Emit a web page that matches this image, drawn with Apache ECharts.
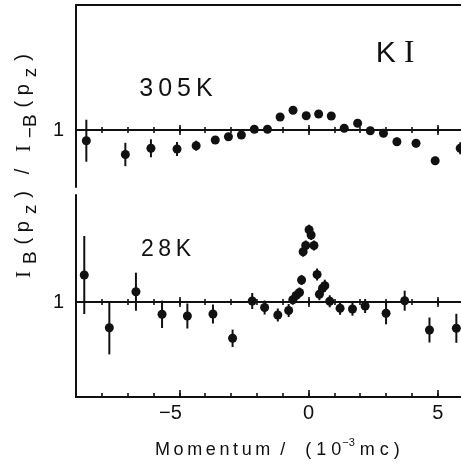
<!DOCTYPE html>
<html>
<head>
<meta charset="utf-8">
<script src="https://cdn.jsdelivr.net/npm/echarts@6/dist/echarts.min.js"></script>
<style>
html, body { margin: 0; padding: 0; background: #fff; }
#chart { width: 461px; height: 465px; }
</style>
</head>
<body>
<div id="chart"></div>
<script>
// 305 K panel
var topMomentum = [-8.60, -7.09, -6.10, -5.09, -4.35, -3.61, -3.10, -2.60, -2.10, -1.59, -1.10, -0.60, -0.09, 0.39, 0.88, 1.38, 1.90, 2.39, 2.90, 3.42, 4.16, 4.90, 5.87];
var topRatio = [0.9893, 0.9755, 0.9817, 0.9810, 0.9843, 0.9900, 0.9933, 0.9950, 1.0007, 1.0007, 1.0130, 1.0197, 1.0143, 1.0160, 1.0140, 1.0017, 1.0067, 0.9993, 0.9967, 0.9883, 0.9867, 0.9693, 0.9817];
var topError = [0.021, 0.0117, 0.009, 0.007, 0.005, 0.004, 0.003, 0.003, 0.003, 0.003, 0.003, 0.003, 0.003, 0.003, 0.003, 0.003, 0.003, 0.003, 0.003, 0.004, 0.004, 0.004, 0.006];

// 28 K panel
var botMomentum = [-8.68, -7.71, -6.68, -5.67, -4.69, -3.70, -2.94, -2.18, -1.70, -1.19, -0.77, -0.61, -0.48, -0.35, -0.27, -0.21, -0.11, 0.02, 0.10, 0.21, 0.33, 0.42, 0.54, 0.63, 0.82, 1.22, 1.70, 2.19, 3.00, 3.72, 4.68, 5.72];
var botRatio = [1.0270, 0.9743, 1.0103, 0.9877, 0.9860, 0.9880, 0.9637, 1.0010, 0.9945, 0.9870, 0.9915, 1.0023, 1.0065, 1.0095, 1.0220, 1.0503, 1.0565, 1.0723, 1.0670, 1.0565, 1.0275, 1.0078, 1.0137, 1.0163, 1.0007, 0.9937, 0.9930, 0.9960, 0.9887, 1.0013, 0.9720, 0.9737];
var botError = [0.039, 0.0267, 0.019, 0.0137, 0.0125, 0.0095, 0.0087, 0.008, 0.007, 0.0065, 0.0065, 0.005, 0.005, 0.005, 0.005, 0.005, 0.005, 0.005, 0.005, 0.005, 0.006, 0.006, 0.006, 0.006, 0.006, 0.0065, 0.0067, 0.007, 0.011, 0.010, 0.0125, 0.0145];

var minorTicks = [-8, -7, -6, -5, -4, -3, -2, -1, 0, 1, 2, 3, 4, 5];
var majorTicks = [-5, 0, 5];
var xMin = -9, xMax = 5.9;

var ink = '#111';
var sans = 'Liberation Sans';

// ratios are drawn as (ratio - 1) so the baseline axes can sit on zero
// zeroOf: yAxis index to sit on, or null for the frame edge
function xAx(grid, pos, zeroOf, ticks, len, inside, line, labels) {
	return {
		type: 'value', gridIndex: grid, position: pos, min: xMin, max: xMax,
		axisLine: { show: line, onZero: zeroOf != null, onZeroAxisIndex: zeroOf != null ? zeroOf : undefined,
			lineStyle: { color: ink, width: 2 } },
		axisTick: { show: ticks.length > 0, customValues: ticks, length: len, inside: inside,
			lineStyle: { color: ink, width: 1.6 } },
		axisLabel: labels ? {
			show: true, customValues: majorTicks, margin: 6, color: ink,
			fontFamily: sans, fontSize: 20,
			formatter: function (v) { return v < 0 ? '{n|−' + Math.abs(v) + '}' : '' + v; },
			rich: { n: { fontFamily: sans, fontSize: 20, color: ink, padding: [0, 18, 0, 0] } }
		} : { show: false },
		splitLine: { show: false }
	};
}

function yAx(grid, lo, hi) {
	return {
		type: 'value', gridIndex: grid, min: lo, max: hi,
		axisLine: { show: true, onZero: false, lineStyle: { color: ink, width: 2 } },
		axisTick: { show: false },
		axisLabel: { show: true, customValues: [0], margin: 12, color: ink, fontFamily: sans, fontSize: 20,
			formatter: function () { return '1'; } },
		splitLine: { show: false }
	};
}

function bars(m, r, e) {
	return m.map(function (x, i) { return [x, r[i] - 1 - e[i], r[i] - 1 + e[i]]; });
}
function dots(m, r) {
	return m.map(function (x, i) { return [x, r[i] - 1]; });
}

function errorSeries(xi, yi, data) {
	return {
		type: 'custom', xAxisIndex: xi, yAxisIndex: yi, data: data, silent: true,
		renderItem: function (params, api) {
			var a = api.coord([api.value(0), api.value(1)]);
			var b = api.coord([api.value(0), api.value(2)]);
			return { type: 'line', shape: { x1: a[0], y1: a[1], x2: b[0], y2: b[1] },
				style: { stroke: ink, lineWidth: 2 } };
		}
	};
}
function dotSeries(xi, yi, data) {
	return {
		type: 'scatter', xAxisIndex: xi, yAxisIndex: yi, data: data,
		symbol: 'circle', symbolSize: 9, itemStyle: { color: ink, opacity: 1 }, silent: true
	};
}

var chart = echarts.init(document.getElementById('chart'), null, { renderer: 'canvas' });
chart.setOption({
	animation: false,
	backgroundColor: '#fff',
	grid: [
		{ left: 76, top: 5, width: 385, height: 182 },
		{ left: 76, top: 195, width: 385, height: 202 }
	],
	xAxis: [
		xAx(0, 'bottom', 0, minorTicks, 3, false, true, false),
		xAx(0, 'bottom', 0, majorTicks, 5, false, true, false),
		xAx(0, 'top', 0, minorTicks, 3, false, true, false),
		xAx(0, 'top', 0, majorTicks, 5, false, true, false),
		xAx(0, 'top', null, [], 0, false, true, false),
		xAx(1, 'bottom', 1, minorTicks, 3, false, true, false),
		xAx(1, 'bottom', 1, majorTicks, 5, false, true, false),
		xAx(1, 'top', 1, minorTicks, 3, false, true, false),
		xAx(1, 'top', 1, majorTicks, 5, false, true, false),
		xAx(1, 'bottom', null, minorTicks, 4, true, true, false),
		xAx(1, 'bottom', null, majorTicks, 7, true, true, true)
	],
	yAxis: [
		yAx(0, -0.057, 0.125),
		yAx(1, -0.095, 0.107)
	],
	series: [
		errorSeries(0, 0, bars(topMomentum, topRatio, topError)),
		dotSeries(0, 0, dots(topMomentum, topRatio)),
		errorSeries(5, 1, bars(botMomentum, botRatio, botError)),
		dotSeries(5, 1, dots(botMomentum, botRatio))
	],
	graphic: [
		{ type: 'text', x: 176, y: 89, silent: true,
			style: { text: '3\u20090\u20095\u2009K', font: '25px "Liberation Sans"', fill: ink, align: 'center', verticalAlign: 'middle' } },
		{ type: 'text', x: 166, y: 250, silent: true,
			style: { text: '2\u20098\u2009K', font: '23px "Liberation Sans"', fill: ink, align: 'center', verticalAlign: 'middle' } },
		{ type: 'text', x: 395, y: 54, silent: true,
			style: { text: '{k|K }{i|I}', fill: ink, align: 'center', verticalAlign: 'middle',
				rich: { k: { fontFamily: sans, fontSize: 30, color: ink }, i: { fontFamily: 'Liberation Serif', fontSize: 31, color: ink } } } },
		{ type: 'text', x: 155, y: 448, silent: true,
			style: { text: '{n|M\u2009o\u2009m\u2009e\u2009n\u2009t\u2009u\u2009m  /    ( 1 0}{s|−3}{n| m c )}',
				fill: ink, align: 'left', verticalAlign: 'middle',
				rich: {
					n: { fontFamily: sans, fontSize: 18, color: ink, lineHeight: 22, verticalAlign: 'bottom' },
					s: { fontFamily: sans, fontSize: 11, color: ink, lineHeight: 22, verticalAlign: 'top', padding: [0, 0, 0, 1] }
				} } },
		{ type: 'text', x: 26, y: 166, rotation: Math.PI / 2, silent: true,
			style: { text: '{i|I} {s|B} {n|( p} {s|z} {n|)   /   }{i|I} {s|−B} {n|( p} {s|z} {n|)}',
				font: '25px "Liberation Sans"', fill: ink, align: 'center', verticalAlign: 'middle',
				rich: {
					n: { fontFamily: sans, fontSize: 20, color: ink, lineHeight: 20, verticalAlign: 'top' },
					i: { fontFamily: 'Liberation Serif', fontSize: 21, color: ink, lineHeight: 20, verticalAlign: 'top' },
					s: { fontFamily: sans, fontSize: 19, color: ink, lineHeight: 20, verticalAlign: 'top', padding: [8, 0, 0, 0] }
				} } }
	]
});
</script>
</body>
</html>
